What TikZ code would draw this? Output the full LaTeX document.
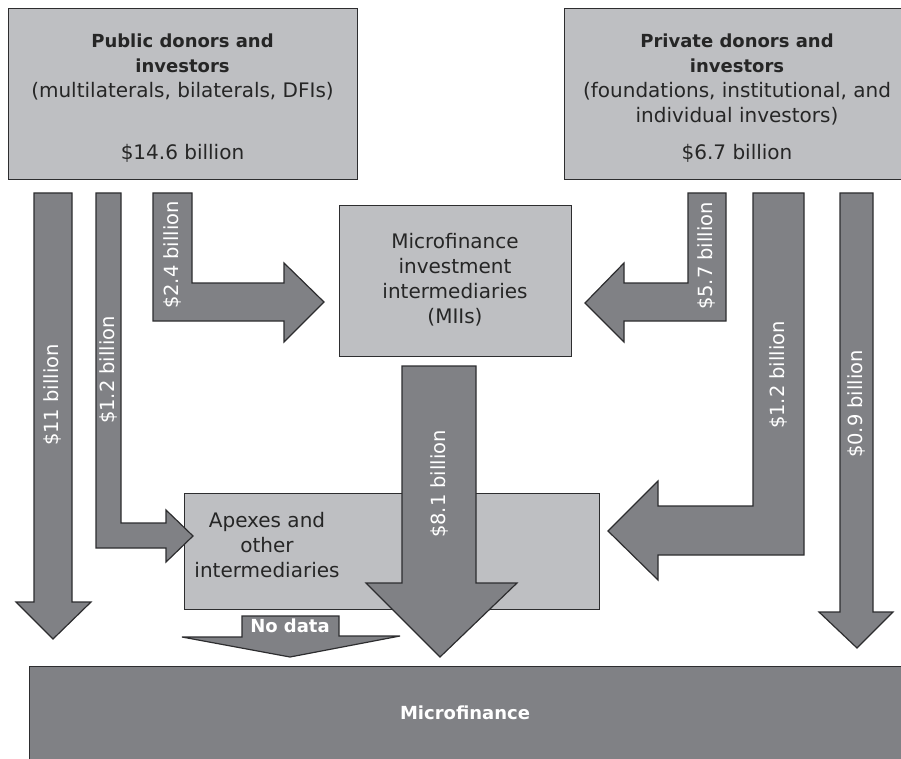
\documentclass[tikz,border=0pt]{standalone}
\usepackage{fontspec}
\setmainfont{DejaVu Sans}
\usetikzlibrary{positioning}
\definecolor{box-light}{RGB}{190,191,194}
\definecolor{flow-dark}{RGB}{128,129,133}
\definecolor{edge-dark}{RGB}{45,45,47}
\newcommand{\donorhead}{\fontsize{18}{25}\selectfont\bfseries}

\begin{document}
\begin{tikzpicture}[
    x=1pt, y=-1pt,
    every node/.style={font=\fontsize{20}{25}\selectfont, inner sep=0pt},
    srcbox/.style={rectangle, draw=edge-dark, fill=box-light,
                   line width=1.2pt, anchor=north west},
    sinkbox/.style={rectangle, draw=edge-dark, fill=flow-dark,
                    line width=1.2pt, anchor=north west},
    flow/.style={draw=edge-dark, fill=flow-dark, line width=1.2pt,
                 line join=miter},
    body/.style={align=center, anchor=north, text=black!85},
    amount/.style={rotate=90, text=white, font=\fontsize{19.5}{24}\selectfont},
    tag/.style={text=white, font=\fontsize{18}{24}\selectfont\bfseries},
  ]
    \useasboundingbox (0,0) rectangle (901,759);

    % boxes
    \node[srcbox, minimum width=349, minimum height=171] (public) at (8,8) {};
    \node[srcbox, minimum width=346, minimum height=171] (private) at (564,8) {};
    \node[srcbox, minimum width=232, minimum height=151] (mii) at (339,205) {};
    \node[srcbox, minimum width=415, minimum height=116] (apex) at (184,493) {};
    \node[sinkbox, minimum width=881, minimum height=104] (micro) at (29,666) {};

    % flows, public side
    \draw[flow] (34,193) -- (72,193) -- (72,602) -- (91,602) -- (53,639)
      -- (16,602) -- (34,602) -- cycle;
    \draw[flow] (96,193) -- (121,193) -- (121,523) -- (166,523) -- (166,510)
      -- (193,536) -- (166,562) -- (166,548) -- (96,548) -- cycle;
    \draw[flow] (153,193) -- (192,193) -- (192,283) -- (284,283) -- (284,263)
      -- (324,302) -- (284,342) -- (284,321) -- (153,321) -- cycle;

    % flows, private side
    \draw[flow] (726,193) -- (688,193) -- (688,283) -- (624,283) -- (624,263)
      -- (585,303) -- (624,342) -- (624,321) -- (726,321) -- cycle;
    \draw[flow] (804,193) -- (753,193) -- (753,506) -- (658,506) -- (658,481)
      -- (608,531) -- (658,580) -- (658,555) -- (804,555) -- cycle;
    \draw[flow] (840,193) -- (873,193) -- (873,612) -- (893,612) -- (857,648)
      -- (819,612) -- (840,612) -- cycle;

    % flows out of the intermediaries
    \draw[flow] (402,366) -- (476,366) -- (476,583) -- (517,583) -- (440,657)
      -- (366,583) -- (402,583) -- cycle;
    \draw[flow] (242,616) -- (339,616) -- (339,636) -- (400,636) -- (290,657)
      -- (182,637) -- (242,637) -- cycle;

    % texts
    \node[body] (public-text) at (182.5,33.3)
      {{\donorhead Public donors and}\\{\donorhead investors}\\(multilaterals, bilaterals, DFIs)};
    \node[anchor=base, text=black!85] (public-sum) at (182.5,160) {\$14.6 billion};
    \node[body] (private-text) at (737,33.3)
      {{\donorhead Private donors and}\\{\donorhead investors}\\(foundations, institutional, and\\individual investors)};
    \node[anchor=base, text=black!85] (private-sum) at (737,160) {\$6.7 billion};
    \node[body] (mii-text) at (455,232.8)
      {Microfinance\\investment\\intermediaries\\(MIIs)};
    \node[body] (apex-text) at (267,511.8) {Apexes and\\other\\intermediaries};
    \node[tag] (micro-text) at (465,713) {Microfinance};
    \node[tag] (nodata) at (290,626) {No data};

    % amounts on the flows
    \node[amount] (f-11) at (53,395) {\$11 billion};
    \node[amount] (f-12a) at (108.5,370) {\$1.2 billion};
    \node[amount] (f-24) at (172.5,255) {\$2.4 billion};
    \node[amount] (f-81) at (440,484) {\$8.1 billion};
    \node[amount] (f-57) at (707,256) {\$5.7 billion};
    \node[amount] (f-12b) at (778.5,375) {\$1.2 billion};
    \node[amount] (f-09) at (856.5,404) {\$0.9 billion};
\end{tikzpicture}
\end{document}
